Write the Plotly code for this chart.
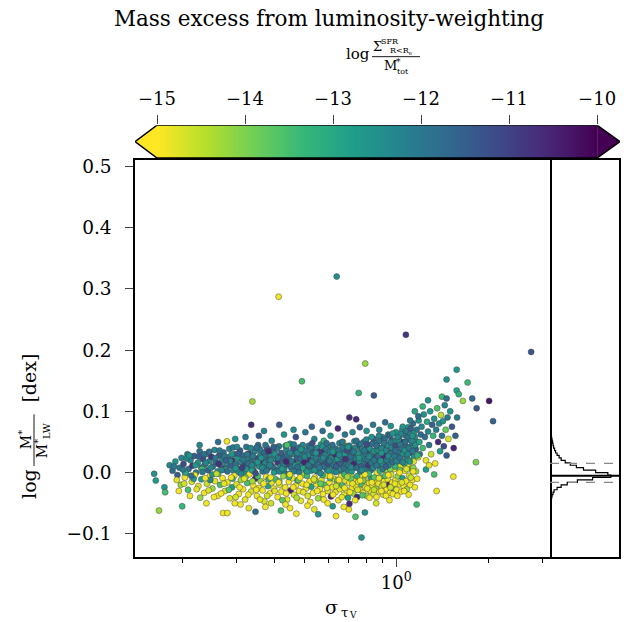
import numpy as np
import plotly.graph_objects as go

W, H = 624, 622
FONT = "DejaVu Serif"

# ---------------- data: (sigma_tauV, log M*/M*_LW, log sSFR-like colour) ----------------
dark_a = [
    (0.182,0.012,-12.3),(0.186,0.003,-11.8),(0.19,0.018,-12.6),(0.193,-0.004,-11.5),(0.196,0.008,-12.0),(0.199,0.024,-12.3),
    (0.202,0.014,-11.2),(0.205,-0.002,-12.6),(0.208,0.03,-12.0),(0.21,0.006,-11.8),(0.213,0.02,-12.3),(0.216,0.011,-10.8),
    (0.219,0.027,-11.5),(0.222,0.0,-12.0),(0.225,0.016,-12.6),(0.228,0.035,-11.8),(0.231,0.008,-12.3),(0.234,0.022,-11.2),
    (0.237,0.013,-12.0),(0.24,0.03,-12.6),(0.243,0.004,-11.5),(0.246,0.019,-12.3),(0.249,0.026,-10.8),(0.252,0.01,-12.0),
    (0.255,0.037,-12.3),(0.258,0.017,-11.8),(0.261,0.002,-12.6),(0.264,0.028,-11.5),(0.267,0.012,-12.0),(0.27,0.021,-12.3),
    (0.273,0.033,-11.8),(0.276,0.007,-11.2),(0.279,0.016,-12.6),(0.282,0.025,-12.0),(0.285,0.039,-12.3),(0.288,0.011,-11.5),
    (0.291,0.02,-10.6),(0.294,0.003,-12.3),(0.297,0.03,-12.0),(0.3,0.014,-11.8),(0.303,0.024,-12.6),(0.306,0.006,-12.0),
    (0.309,0.036,-11.5),(0.312,0.017,-12.3),(0.315,0.028,-11.8),(0.318,0.0,-12.6),(0.321,0.012,-11.2),(0.324,0.042,-12.0),
    (0.327,0.021,-12.3),(0.33,0.031,-10.8),(0.333,0.009,-12.0),(0.336,0.018,-11.8),(0.339,0.026,-12.6),(0.342,0.004,-11.5),
    (0.345,0.035,-12.3),(0.348,0.014,-12.0),(0.351,0.023,-11.2),(0.354,0.045,-11.8),(0.357,0.01,-12.6),(0.36,0.029,-12.3),
    (0.363,0.019,-10.5),(0.366,0.002,-12.0),(0.369,0.033,-11.8),(0.372,0.015,-12.3),(0.375,0.025,-12.6),(0.378,0.04,-11.5),
    (0.381,0.007,-12.0),(0.384,0.02,-11.8),(0.387,0.03,-12.3),(0.39,0.012,-11.2),(0.394,0.037,-12.0),(0.398,0.022,-12.6),
    (0.402,0.005,-11.8),(0.406,0.028,-12.3),(0.41,0.016,-10.8),(0.414,0.043,-12.0),(0.418,0.01,-12.3),(0.422,0.032,-11.5),
    (0.426,0.019,-12.6),(0.43,0.001,-12.0),(0.434,0.026,-11.8),(0.438,0.038,-12.3),(0.442,0.013,-11.2),(0.446,0.022,-12.0),
    (0.45,0.047,-12.6),(0.454,0.008,-11.8),(0.458,0.03,-12.3),(0.462,0.017,-10.4),(0.466,0.035,-12.0),(0.47,0.004,-12.3),
    (0.474,0.024,-11.5),(0.478,0.014,-12.6),(0.482,0.041,-11.8),(0.486,0.029,-12.0),(0.49,0.011,-12.3),(0.494,0.02,-11.2),
    (0.498,0.036,-12.0),(0.503,0.006,-12.6),(0.508,0.027,-11.8),(0.513,0.016,-12.3),(0.518,0.044,-12.0),(0.523,0.021,-10.7),
    (0.528,0.033,-12.3),(0.533,0.009,-11.5),(0.538,0.025,-12.6),(0.543,0.038,-12.0),(0.548,0.014,-11.8),(0.553,0.002,-12.3),
    (0.558,0.03,-11.2),(0.563,0.019,-12.0),(0.568,0.046,-12.6),(0.573,0.011,-11.8),(0.578,0.028,-12.3),(0.583,0.036,-10.5),
    (0.588,0.017,-12.0),(0.593,0.005,-12.3),(0.598,0.024,-11.5),(0.604,0.042,-12.6),(0.61,0.013,-12.0),(0.616,0.031,-11.8),
    (0.622,0.021,-12.3),(0.628,0.008,-11.2),(0.634,0.039,-12.0),(0.64,0.027,-12.6),(0.646,0.015,-10.8),(0.652,0.048,-12.3),
    (0.658,0.003,-11.8),(0.664,0.034,-12.0),(0.67,0.019,-12.3),(0.676,0.026,-11.5),(0.682,0.011,-12.6),(0.688,0.043,-12.0),
    (0.694,0.022,-11.8),(0.7,0.032,-12.3),(0.706,0.006,-10.4),(0.712,0.017,-12.0),(0.718,0.038,-11.2),(0.724,0.025,-12.6),
    (0.73,0.051,-12.3),(0.736,0.013,-11.8),(0.742,0.03,-12.0),(0.748,0.02,-12.3),(0.754,0.044,-11.5),(0.76,0.008,-12.6),
    (0.766,0.035,-12.0),(0.772,0.027,-10.9),(0.778,0.016,-12.3),(0.784,0.05,-11.8),(0.79,0.022,-12.0),(0.796,0.039,-12.6),
    (0.802,0.012,-12.3),(0.808,0.031,-11.2),(0.814,0.045,-12.0),(0.82,0.02,-12.3),(0.826,0.004,-11.8),(0.832,0.036,-12.6),
    (0.838,0.026,-12.0),(0.844,0.055,-11.5),(0.85,0.015,-12.3),(0.857,0.033,-12.0),(0.864,0.048,-12.6),(0.871,0.021,-11.8),
    (0.878,0.04,-10.6),(0.885,0.009,-12.3),(0.892,0.029,-12.0),(0.899,0.058,-12.3),(0.906,0.018,-11.5),(0.913,0.037,-12.6),
    (0.92,0.046,-12.0),(0.927,0.025,-11.8),(0.934,0.013,-12.3),(0.941,0.062,-12.0),(0.948,0.032,-11.2),(0.955,0.042,-12.6),
    (0.962,0.02,-12.3),(0.969,0.053,-12.0),(0.976,0.028,-11.8),(0.983,0.038,-10.5),(0.99,0.016,-12.3),(0.998,0.066,-12.6),
    (1.006,0.045,-12.0),(1.014,0.026,-11.8),(1.022,0.057,-12.3),(1.03,0.035,-11.5),(1.038,0.014,-12.0),(1.046,0.07,-12.6),
    (1.054,0.049,-12.3),(1.062,0.03,-11.2),(1.07,0.061,-12.0),(1.078,0.022,-12.3),(1.086,0.042,-11.8),(1.094,0.074,-12.6),
    (1.102,0.054,-12.0),(1.11,0.033,-10.8),(1.118,0.065,-12.3),(1.126,0.045,-12.0),(1.134,0.08,-11.8),(1.142,0.025,-12.6),
    (1.15,0.058,-12.3),(1.158,0.038,-11.5),(1.166,0.07,-12.0),(1.175,0.05,-12.3),(1.184,0.085,-12.6),(1.193,0.03,-12.0),
    (1.202,0.062,-11.8),
]

lower_band = [
    (0.192,-0.012,-14.8),(0.198,-0.02,-14.2),(0.204,-0.008,-14.9),(0.209,-0.028,-13.5),(0.215,-0.015,-14.7),(0.22,-0.004,-14.9),
    (0.226,-0.022,-14.8),(0.231,-0.011,-12.8),(0.236,-0.033,-14.9),(0.241,-0.018,-14.6),(0.246,-0.006,-14.9),(0.251,-0.026,-14.2),
    (0.256,-0.014,-14.8),(0.261,-0.038,-14.9),(0.266,-0.02,-13.5),(0.271,-0.009,-14.9),(0.276,-0.03,-14.7),(0.281,-0.016,-14.9),
    (0.286,-0.042,-14.8),(0.291,-0.024,-12.8),(0.296,-0.005,-14.9),(0.301,-0.019,-14.7),(0.306,-0.035,-14.9),(0.311,-0.012,-14.2),
    (0.316,-0.027,-14.9),(0.321,-0.044,-14.8),(0.326,-0.017,-13.5),(0.331,-0.003,-14.9),(0.336,-0.031,-14.7),(0.341,-0.021,-14.9),
    (0.346,-0.01,-10.5),(0.351,-0.038,-14.9),(0.356,-0.025,-14.8),(0.361,-0.014,-14.2),(0.366,-0.029,-14.9),(0.371,-0.047,-14.7),
    (0.376,-0.007,-14.9),(0.381,-0.022,-12.8),(0.386,-0.034,-14.9),(0.392,-0.016,-14.8),(0.398,-0.026,-14.9),(0.404,-0.011,-13.5),
    (0.41,-0.04,-14.9),(0.416,-0.02,-14.7),(0.422,-0.031,-14.9),(0.428,-0.006,-14.2),(0.434,-0.024,-14.9),(0.44,-0.044,-14.8),
    (0.446,-0.015,-14.9),(0.452,-0.029,-10.4),(0.458,-0.009,-14.9),(0.464,-0.036,-14.7),(0.47,-0.021,-14.9),(0.476,-0.013,-13.5),
    (0.482,-0.03,-14.9),(0.488,-0.046,-14.8),(0.494,-0.018,-14.9),(0.5,-0.004,-14.2),(0.507,-0.026,-14.9),(0.514,-0.038,-14.7),
    (0.521,-0.014,-14.9),(0.528,-0.023,-12.8),(0.535,-0.033,-14.9),(0.542,-0.008,-14.8),(0.549,-0.019,-14.9),(0.556,-0.042,-14.2),
    (0.563,-0.027,-14.9),(0.57,-0.012,-14.7),(0.577,-0.035,-14.9),(0.584,-0.02,-13.5),(0.591,-0.005,-14.9),(0.598,-0.03,-14.8),
    (0.605,-0.016,-14.9),(0.612,-0.039,-10.5),(0.619,-0.024,-14.9),(0.626,-0.01,-14.7),(0.633,-0.032,-14.9),(0.64,-0.018,-14.2),
    (0.647,-0.045,-14.9),(0.654,-0.027,-14.8),(0.661,-0.006,-14.9),(0.668,-0.021,-13.5),(0.675,-0.036,-14.9),(0.682,-0.013,-14.7),
    (0.689,-0.029,-14.9),(0.696,-0.041,-12.8),(0.703,-0.017,-14.9),(0.71,-0.003,-14.8),(0.717,-0.025,-14.9),(0.724,-0.034,-14.2),
    (0.731,-0.011,-14.9),(0.738,-0.022,-14.7),(0.745,-0.04,-10.6),(0.752,-0.015,-14.9),(0.759,-0.028,-14.8),(0.766,-0.007,-14.9),
    (0.773,-0.019,-13.5),(0.78,-0.033,-14.9),(0.787,-0.012,-14.7),(0.794,-0.024,-14.9),(0.801,-0.038,-14.2),(0.808,-0.004,-14.9),
    (0.815,-0.017,-14.8),(0.822,-0.029,-14.9),(0.829,-0.01,-12.8),(0.836,-0.021,-14.9),(0.843,-0.035,-14.7),(0.85,-0.013,-14.9),
    (0.858,-0.026,-14.2),(0.866,0.0,-14.9),(0.874,-0.018,-14.8),(0.882,-0.031,-14.9),(0.89,-0.008,-13.5),(0.898,-0.022,-14.9),
    (0.906,-0.036,-14.7),(0.914,-0.014,-14.9),(0.922,0.004,-14.2),(0.93,-0.027,-14.9),(0.938,-0.011,-14.8),(0.946,-0.02,-10.5),
    (0.954,-0.033,-14.9),(0.962,-0.003,-14.7),(0.97,-0.016,-14.9),(0.978,-0.025,-13.5),(0.986,0.006,-14.9),(0.994,-0.012,-14.8),
    (1.003,-0.028,-14.9),(1.012,-0.006,-14.2),(1.021,-0.019,-14.9),(1.03,0.01,-14.7),(1.039,-0.031,-14.9),(1.048,-0.009,-12.8),
    (1.057,-0.022,-14.9),(1.066,0.003,-14.8),(1.075,-0.014,-14.9),(1.084,-0.027,-14.2),(1.093,0.012,-14.9),(1.102,-0.005,-14.7),
    (1.111,-0.02,-14.9),(1.12,0.006,-13.5),(1.13,-0.012,-14.9),(1.14,0.018,-14.8),(1.15,-0.024,-14.9),(1.16,0.002,-14.2),
    (1.17,-0.01,-14.9),(1.18,0.025,-14.7),
]

mixed_band = [
    (0.205,0.0,-13.0),(0.218,-0.01,-12.6),(0.232,0.006,-13.4),(0.247,-0.012,-12.3),(0.262,-0.002,-13.8),(0.277,0.005,-12.8),
    (0.292,-0.01,-13.2),(0.307,0.001,-12.5),(0.322,-0.008,-14.0),(0.338,0.004,-12.9),(0.353,-0.006,-13.5),(0.368,0.009,-12.4),
    (0.383,-0.011,-13.1),(0.399,0.0,-12.7),(0.415,-0.014,-13.9),(0.431,0.006,-12.6),(0.447,-0.007,-13.3),(0.463,0.002,-12.2),
    (0.479,-0.012,-13.7),(0.495,0.007,-12.9),(0.511,-0.005,-13.4),(0.527,0.003,-12.5),(0.543,-0.013,-14.1),(0.559,0.005,-12.8),
    (0.575,-0.004,-13.2),(0.592,0.008,-12.4),(0.609,-0.009,-13.6),(0.626,0.002,-12.7),(0.643,-0.012,-14.0),(0.66,0.006,-12.9),
    (0.677,-0.003,-13.3),(0.694,0.004,-12.3),(0.711,-0.01,-13.8),(0.728,0.008,-12.6),(0.745,-0.006,-13.1),(0.762,0.002,-12.4),
    (0.779,-0.013,-14.0),(0.796,0.006,-12.8),(0.813,-0.002,-13.4),(0.83,0.01,-12.5),(0.848,-0.008,-13.7),(0.866,0.012,-12.9),
    (0.884,0.003,-13.2),(0.902,0.014,-12.4),(0.92,-0.005,-13.6),(0.938,0.018,-12.7),(0.956,0.006,-14.0),(0.974,0.022,-12.9),
    (0.992,0.01,-13.3),(1.01,0.026,-12.4),(1.028,0.004,-13.8),(1.046,0.03,-12.6),(1.064,0.015,-13.1),(1.082,0.035,-12.3),
    (1.1,0.02,-13.5),(1.118,0.04,-12.8),(1.136,0.008,-14.1),(1.154,0.045,-12.5),(1.172,0.028,-13.2),(1.19,0.05,-12.9),
]

dark_b = [
    (0.201,0.005,-12.0),(0.207,0.023,-12.3),(0.214,-0.005,-11.8),(0.221,0.012,-12.6),(0.227,0.026,-11.5),(0.233,0.001,-12.0),
    (0.239,0.016,-12.3),(0.245,0.034,-11.8),(0.251,-0.003,-12.6),(0.257,0.024,-12.0),(0.263,0.014,-10.7),(0.269,0.004,-12.3),
    (0.275,0.026,-12.0),(0.281,0.002,-11.8),(0.287,0.019,-12.3),(0.293,0.041,-12.0),(0.299,0.007,-12.6),(0.305,0.031,-11.5),
    (0.311,-0.002,-12.3),(0.317,0.021,-12.0),(0.323,0.006,-12.6),(0.329,0.015,-11.8),(0.335,0.04,-12.3),(0.341,0.027,-12.0),
    (0.347,-0.001,-11.2),(0.353,0.017,-12.6),(0.359,0.038,-12.0),(0.365,0.008,-12.3),(0.371,0.026,-11.8),(0.377,0.003,-12.0),
    (0.383,0.035,-10.6),(0.389,0.02,-12.3),(0.395,0.009,-11.8),(0.401,0.03,-12.6),(0.408,0.039,-12.0),(0.415,0.002,-12.3),
    (0.421,0.023,-11.5),(0.428,0.012,-12.0),(0.435,0.044,-12.6),(0.441,0.029,-11.8),(0.448,-0.002,-12.3),(0.455,0.019,-12.0),
    (0.461,0.039,-11.2),(0.468,0.012,-12.6),(0.475,0.032,-12.3),(0.481,0.001,-12.0),(0.488,0.022,-11.8),(0.495,0.045,-12.3),
    (0.501,0.017,-10.5),(0.506,0.036,-12.0),(0.511,0.002,-12.6),(0.516,0.029,-12.3),(0.521,0.01,-11.8),(0.526,0.041,-12.0),
    (0.531,0.018,-12.3),(0.536,0.032,-11.5),(0.541,0.004,-12.6),(0.546,0.024,-12.0),(0.551,0.04,-12.3),(0.556,0.013,-11.8),
    (0.561,0.034,-10.9),(0.566,-0.001,-12.3),(0.571,0.021,-12.0),(0.576,0.043,-12.6),(0.581,0.01,-11.8),(0.586,0.029,-12.3),
    (0.591,0.038,-12.0),(0.596,0.015,-11.2),(0.601,0.003,-12.6),(0.607,0.034,-12.0),(0.613,0.024,-12.3),(0.619,0.045,-11.8),
    (0.625,0.012,-12.0),(0.631,0.03,-10.6),(0.637,0.001,-12.3),(0.643,0.022,-12.6),(0.649,0.036,-12.0),(0.655,0.014,-11.5),
    (0.661,0.026,-12.3),(0.667,0.041,-12.0),(0.673,0.007,-11.8),(0.679,0.03,-12.6),(0.685,0.018,-12.3),(0.691,0.036,-11.2),
    (0.697,0.012,-12.0),(0.703,0.044,-12.3),(0.709,0.026,-11.8),(0.715,0.002,-12.6),(0.721,0.033,-12.0),(0.727,0.014,-10.5),
    (0.733,0.04,-12.3),(0.739,0.023,-12.0),(0.745,0.008,-11.8),(0.751,0.031,-12.6),(0.757,0.018,-12.3),(0.763,0.047,-12.0),
    (0.769,0.01,-11.5),(0.775,0.039,-12.3),(0.781,0.028,-12.6),(0.787,0.005,-12.0),(0.793,0.03,-11.8),(0.799,0.054,-12.3),
    (0.805,0.022,-12.0),(0.811,0.012,-10.8),(0.817,0.04,-12.6),(0.823,0.028,-12.3),(0.829,0.016,-12.0),(0.835,0.047,-11.8),
    (0.841,0.008,-12.3),(0.847,0.035,-12.6),(0.854,0.024,-11.2),(0.861,0.012,-12.0),(0.868,0.037,-12.3),(0.875,0.027,-11.8),
    (0.882,0.052,-12.0),(0.889,0.019,-12.6),(0.896,0.04,-12.3),(0.903,0.006,-12.0),(0.91,0.028,-10.6),(0.917,0.055,-11.8),
    (0.924,0.036,-12.3),(0.931,0.02,-12.0),(0.938,0.045,-12.6),(0.945,0.012,-12.3),(0.952,0.06,-11.5),(0.959,0.031,-12.0),
    (0.966,0.041,-12.3),(0.973,0.017,-11.8),(0.98,0.05,-12.6),(0.987,0.027,-12.0),(0.995,0.044,-11.2),(1.003,0.019,-12.3),
    (1.011,0.034,-12.0),(1.019,0.052,-12.6),(1.027,0.024,-11.8),(1.035,0.063,-12.3),(1.043,0.04,-12.0),(1.051,0.017,-12.3),
    (1.059,0.05,-10.7),(1.067,0.036,-12.6),(1.075,0.068,-12.0),(1.083,0.028,-12.3),(1.091,0.057,-11.8),(1.099,0.04,-12.0),
    (1.107,0.018,-12.6),(1.115,0.072,-11.5),(1.123,0.052,-12.3),(1.131,0.035,-12.0),(1.139,0.064,-12.6),
]

lower_b = [
    (0.195,-0.03,-14.9),(0.203,-0.018,-14.7),(0.212,-0.038,-14.9),(0.223,-0.027,-14.8),(0.229,-0.041,-14.2),(0.238,-0.009,-14.9),
    (0.244,-0.029,-14.7),(0.254,-0.04,-14.9),(0.259,-0.002,-14.5),(0.268,-0.034,-14.9),(0.274,-0.018,-14.8),(0.284,-0.028,-13.6),
    (0.289,-0.008,-14.9),(0.299,-0.04,-14.7),(0.308,-0.024,-14.9),(0.319,-0.01,-14.8),(0.329,-0.036,-14.9),(0.339,-0.014,-14.3),
    (0.349,-0.028,-14.9),(0.359,-0.044,-14.8),(0.369,-0.018,-14.9),(0.379,-0.038,-14.6),(0.389,-0.008,-14.9),(0.401,-0.03,-14.8),
    (0.413,-0.016,-14.9),(0.425,-0.045,-13.7),(0.437,-0.034,-14.9),(0.449,-0.003,-14.8),(0.461,-0.024,-14.9),(0.473,-0.041,-14.4),
    (0.485,-0.008,-14.9),(0.497,-0.032,-14.8),(0.51,-0.02,-14.9),(0.524,-0.048,-14.9),(0.538,-0.011,-14.7),(0.552,-0.03,-14.9),
    (0.566,-0.018,-13.8),(0.58,-0.044,-14.9),(0.594,-0.025,-14.8),(0.608,-0.006,-14.9),(0.622,-0.036,-14.9),(0.636,-0.022,-14.6),
    (0.65,-0.012,-14.9),(0.664,-0.04,-14.8),(0.678,-0.025,-14.9),(0.692,-0.007,-14.3),(0.706,-0.032,-14.9),(0.72,-0.018,-14.8),
    (0.734,-0.045,-14.9),(0.748,-0.028,-14.7),(0.762,-0.013,-14.9),(0.776,-0.037,-13.6),(0.79,-0.003,-14.9),(0.804,-0.026,-14.8),
    (0.818,-0.041,-14.9),(0.832,-0.016,-14.9),(0.846,-0.028,-14.5),(0.862,-0.04,-14.9),(0.878,-0.009,-14.8),(0.894,-0.03,-14.9),
    (0.91,-0.02,-14.7),(0.926,-0.038,-14.9),(0.942,-0.004,-14.9),(0.958,-0.024,-14.6),(0.975,-0.035,-14.9),(0.99,-0.018,-14.8),
    (1.008,-0.038,-14.9),(1.025,0.0,-14.9),(1.043,-0.016,-14.7),(1.061,-0.03,-14.9),(1.08,0.006,-14.8),(1.098,-0.036,-14.9),
    (1.116,-0.008,-14.6),(1.135,0.002,-14.9),
]

dark_c = [
    (0.188,0.01,-12.0),(0.211,0.028,-12.6),(0.236,0.03,-11.8),(0.248,0.008,-12.3),(0.265,0.036,-12.0),(0.278,0.02,-11.5),
    (0.29,0.03,-12.6),(0.302,0.042,-12.3),(0.314,0.008,-10.9),(0.326,0.03,-12.0),(0.338,0.012,-12.3),(0.35,0.041,-11.8),
    (0.362,0.024,-12.6),(0.374,0.045,-12.0),(0.386,0.012,-12.3),(0.398,0.042,-11.5),(0.411,0.024,-12.0),(0.424,0.006,-12.6),
    (0.437,0.018,-10.5),(0.45,0.032,-12.3),(0.463,0.046,-12.0),(0.476,0.009,-11.8),(0.489,0.038,-12.6),(0.502,0.026,-12.3),
    (0.517,0.012,-12.0),(0.532,0.048,-11.2),(0.547,0.032,-12.6),(0.562,0.008,-12.0),(0.577,0.024,-12.3),(0.592,0.048,-11.8),
    (0.606,0.019,-12.0),(0.621,0.034,-12.6),(0.636,0.01,-11.5),(0.651,0.029,-12.3),(0.666,0.05,-12.0),(0.681,0.022,-10.7),
    (0.696,0.042,-12.6),(0.711,0.009,-12.3),(0.726,0.034,-12.0),(0.741,0.052,-11.8),(0.756,0.024,-12.6),(0.771,0.004,-12.3),
    (0.786,0.036,-12.0),(0.801,0.046,-11.2),(0.816,0.026,-12.3),(0.831,0.058,-12.6),(0.846,0.02,-12.0),(0.862,0.044,-11.8),
    (0.878,0.06,-12.3),(0.894,0.032,-12.6),(0.91,0.048,-12.0),(0.926,0.01,-11.5),(0.942,0.027,-12.3),(0.958,0.05,-12.0),
    (0.974,0.064,-12.6),(0.992,0.036,-11.8),(1.01,0.058,-12.3),(1.03,0.046,-12.0),(1.05,0.075,-12.6),(1.07,0.05,-11.8),
    (1.09,0.03,-12.3),(1.11,0.085,-12.0),(1.13,0.06,-12.6),
]

upper_strag = [
    (0.228,0.045,-12.3),(0.262,0.05,-11.8),(0.298,0.055,-12.6),(0.322,0.058,-12.0),(0.356,0.06,-11.5),(0.392,0.052,-12.3),
    (0.43,0.062,-12.6),(0.47,0.058,-11.2),(0.505,0.066,-12.0),(0.54,0.055,-12.3),(0.575,0.068,-11.8),(0.61,0.06,-12.6),
    (0.645,0.072,-10.6),(0.68,0.062,-12.0),(0.72,0.066,-12.3),(0.76,0.074,-11.5),(0.8,0.068,-12.6),(0.84,0.078,-12.0),
    (0.88,0.07,-12.3),(0.92,0.082,-11.8),(0.96,0.076,-12.6),(0.6,0.08,-12.4),(0.53,0.075,-11.6),(0.37,0.068,-12.2),
    (0.44,0.045,-13.6),(0.67,0.05,-14.6),(0.58,0.052,-13.2),
]

lower_strag = [
    (0.24,-0.05,-14.9),(0.33,-0.058,-14.8),(0.39,-0.05,-14.6),(0.45,-0.058,-14.9),(0.54,-0.06,-14.8),
    (0.62,-0.055,-12.6),(0.7,-0.06,-14.9),(0.86,-0.05,-14.7),(0.95,-0.045,-14.9),(0.42,-0.062,-13.5),
]

right_wing = [
    (1.21,0.075,-12.4),(1.22,0.04,-13.4),(1.23,0.095,-12.6),(1.24,0.058,-11.8),(1.25,0.02,-14.8),(1.26,0.083,-13.0),
    (1.27,0.067,-12.3),(1.28,0.045,-12.0),(1.29,0.1,-12.7),(1.3,0.03,-14.6),(1.31,0.078,-11.5),(1.32,0.06,-13.3),
    (1.33,0.088,-12.5),(1.34,0.015,-14.9),(1.35,0.07,-12.1),(1.36,0.105,-13.6),(1.37,0.05,-10.6),(1.38,0.08,-12.4),
    (1.39,0.035,-12.8),(1.4,0.094,-14.5),(1.41,0.06,-11.9),(1.42,0.084,-12.6),(1.43,0.043,-11.2),(1.44,0.11,-12.3),
    (1.45,0.07,-13.8),(1.46,0.028,-11.5),(1.47,0.09,-12.0),(1.48,0.055,-14.7),(1.5,0.1,-12.6),(1.52,0.075,-11.4),
    (1.54,0.04,-10.5),(1.56,0.06,-11.6),(1.58,0.09,-12.2),(1.25,0.005,-12.8),(1.28,0.012,-14.8),(1.33,-0.003,-13.5),
    (1.22,0.108,-13.2),(1.27,0.118,-12.5),(1.18,0.092,-11.7),(1.15,0.1,-12.9),
]

outliers = [
    (0.639,0.32,-12.5),(0.413,0.287,-14.9),(1.075,0.225,-10.8),(2.757,0.197,-11.3),(0.792,0.178,-14.2),
    (0.492,0.149,-13.5),(1.575,0.168,-12.6),(1.46,0.152,-12.5),(0.754,0.13,-13.3),(0.845,0.126,-11.4),
    (0.339,0.116,-14.3),(0.336,0.078,-10.6),(0.415,0.078,-11.4),(0.462,0.07,-12.4),(0.28,0.051,-14.9),
    (0.703,0.09,-10.7),(0.74,0.087,-10.6),(2.01,0.117,-10.3),(2.07,0.084,-11.6),(1.83,0.105,-11.4),
    (1.77,0.121,-11.7),(1.71,0.147,-13.4),(1.575,0.134,-12.9),(1.6,0.128,-13.2),(1.41,0.124,-13.4),
    (1.46,0.121,-11.8),(1.65,0.117,-14.2),(1.82,0.017,-14.0),(1.355,-0.03,-14.9),(1.166,-0.052,-13.4),
    (1.536,-0.0065,-14.9),(0.168,-0.062,-14.2),(0.2,-0.055,-13.3),(0.162,-0.002,-12.5),(0.164,-0.013,-12.7),
    (0.175,-0.024,-12.6),(0.176,-0.032,-13.5),(0.272,-0.066,-14.9),(0.281,-0.066,-14.9),(0.347,-0.064,-11.8),
    (0.472,-0.067,-14.9),(0.556,-0.068,-12.6),(0.636,-0.071,-14.9),(0.736,-0.072,-13.6),(0.79,-0.065,-12.6),
    (0.674,-0.056,-14.9),(0.703,-0.051,-10.6),(0.513,-0.054,-14.9),(0.597,-0.05,-14.9),(0.435,-0.052,-14.9),
    (0.374,-0.056,-14.9),(0.31,-0.052,-14.9),(0.297,-0.05,-14.9),(0.77,-0.106,-12.6),
]

# marginal histogram of log M*/M*_LW
hist_edges = [-0.052,-0.048,-0.044,-0.040,-0.036,-0.032,-0.028,-0.024,-0.020,-0.016,-0.012,-0.008,-0.004,0.000,
              0.004,0.008,0.012,0.016,0.020,0.024,0.028,0.032,0.036,0.040,0.044,0.048,0.052,0.056,0.060,
              0.064,0.068,0.072,0.076,0.080,0.084,0.088,0.092,0.096]
hist_counts = [5,10,15,20,30,40,70,110,170,270,420,600,570,450,330,260,200,150,110,90,70,55,45,35,30,25,20,15,12,10,8,6,5,4,3,2,1]
dm_median = -0.005
dm_p16 = -0.016
dm_p84 = 0.015

cbar_ticks = [-15, -14, -13, -12, -11, -10]
CMIN, CMAX = -15, -10
x_minor = [0.2, 0.3, 0.4, 0.5, 0.6, 0.7, 0.8, 0.9, 2, 3]

# ---------------- figure ----------------
groups = [dark_a, lower_band, mixed_band, dark_b, lower_b, upper_strag, dark_c, lower_strag, right_wing, outliers]
sig = [p[0] for g in groups for p in g]
dm = [p[1] for g in groups for p in g]
ssfr = [p[2] for g in groups for p in g]

def PX(x):
    return x / W

def PY(y):
    return 1 - y / H

fig = go.Figure()
fig.add_trace(go.Scatter(
    x=sig, y=dm, mode="markers", xaxis="x", yaxis="y", showlegend=False, hoverinfo="skip",
    marker=dict(color=ssfr, colorscale="Viridis", reversescale=True, cmin=CMIN, cmax=CMAX, size=6,
                line=dict(color="rgba(60,60,60,0.75)", width=0.6))))

n = len(hist_counts)
hx = [0] + hist_counts + [hist_counts[-1], 0]
hy = [hist_edges[0]] + hist_edges[:n] + [hist_edges[n], hist_edges[n]]
fig.add_trace(go.Scatter(x=hx, y=hy, mode="lines", line=dict(color="black", width=1.2, shape="vh"),
                         xaxis="x2", yaxis="y2", showlegend=False, hoverinfo="skip"))

# colour bar drawn as a heatmap on its own axis
cb_vals = np.linspace(CMIN, CMAX, 256)
cb_edges = np.linspace(CMIN, CMAX, 257)
fig.add_trace(go.Heatmap(z=[cb_vals], x=cb_edges, y=[0, 1], colorscale="Viridis", reversescale=True,
                         zmin=CMIN, zmax=CMAX, showscale=False, xaxis="x3", yaxis="y3", hoverinfo="skip"))

axis_common = dict(showgrid=False, zeroline=False, linecolor="black", linewidth=1.5, showline=True)
TICKFONT = dict(family=FONT, size=18.5, color="black")

YR = [-0.1384, 0.5102]
fig.update_layout(
    width=W, height=H, margin=dict(l=0, r=0, t=0, b=0), paper_bgcolor="white", plot_bgcolor="white",
    font=dict(family=FONT, color="black"), hovermode=False,
    xaxis=dict(domain=[PX(135), PX(550)], type="log", range=[-0.853, 0.502], anchor="y", mirror=True,
               tickvals=[1], ticktext=["10<sup>0</sup>"], ticks="outside", ticklen=8, tickwidth=1.3,
               tickfont=dict(family=FONT, size=18, color="black"),
               minor=dict(tickvals=x_minor, ticks="outside", ticklen=4, tickwidth=1.0, tickcolor="black", showgrid=False),
               **axis_common),
    yaxis=dict(domain=[PY(557), PY(157)], range=YR, anchor="x", tick0=0, dtick=0.1, tickformat=".1f", mirror=True,
               ticks="outside", ticklen=8, tickwidth=1.3, ticklabelstandoff=10, tickfont=TICKFONT, **axis_common),
    xaxis2=dict(domain=[PX(550), PX(619)], range=[0, 680], anchor="y2", showticklabels=False, ticks="",
                mirror=True, **axis_common),
    yaxis2=dict(domain=[PY(557), PY(157)], range=YR, anchor="x2", showticklabels=False, ticks="",
                side="right", mirror=False, **axis_common),
    xaxis3=dict(domain=[PX(135), PX(620)], range=[-15.25, -9.74], anchor="y3", side="top",
                tickvals=cbar_ticks, ticks="outside", ticklen=9, tickwidth=1.3, showline=False,
                showgrid=False, zeroline=False, ticklabelstandoff=3,
                tickfont=dict(family=FONT, size=18, color="black")),
    yaxis3=dict(domain=[PY(155), PY(122)], range=[0, 1], anchor="x3", visible=False),
)

shapes = [
    dict(type="path", xref="x3", yref="y3", path="M -15,0 L -15.25,0.5 L -15,1 Z",
         fillcolor="#fde725", line=dict(width=0)),
    dict(type="path", xref="x3", yref="y3", path="M -10,0 L -9.74,0.5 L -10,1 Z",
         fillcolor="#440154", line=dict(width=0)),
    dict(type="path", xref="x3", yref="y3",
         path="M -15,0 L -15.25,0.5 L -15,1 L -10,1 L -9.74,0.5 L -10,0 Z",
         line=dict(color="black", width=1.5)),
    dict(type="line", xref="x2 domain", yref="y2", x0=0, x1=1, y0=dm_median, y1=dm_median,
         line=dict(color="black", width=2)),
    dict(type="line", xref="x2 domain", yref="y2", x0=0, x1=1, y0=dm_p16, y1=dm_p16,
         line=dict(color="#888888", width=1.2, dash="dash")),
    dict(type="line", xref="x2 domain", yref="y2", x0=0, x1=1, y0=dm_p84, y1=dm_p84,
         line=dict(color="#888888", width=1.2, dash="dash")),
    # fraction bars for the stacked labels
    dict(type="line", xref="paper", yref="paper", x0=PX(372), x1=PX(420), y0=PY(53), y1=PY(53),
         line=dict(color="black", width=0.9)),
    dict(type="line", xref="paper", yref="paper", x0=PX(34), x1=PX(34), y0=PY(413), y1=PY(465),
         line=dict(color="black", width=0.9)),
]
fig.update_layout(shapes=shapes)

def ann(text, x, y, size, angle=0):
    return dict(text=text, x=PX(x), y=PY(y), xref="paper", yref="paper", showarrow=False,
                xanchor="center", yanchor="middle", textangle=angle,
                font=dict(family=FONT, size=size, color="black"))

annotations = [
    ann("Mass excess from luminosity-weighting", 329, 15, 21.5),
    # colour-bar label: log Sigma^SFR_{R<Re} / M*_tot
    ann("log", 358, 50, 15),
    ann("Σ", 377, 43, 13),
    ann("SFR", 390, 38, 8),
    ann("R&lt;R<sub>e</sub>", 401, 47, 8),
    ann("M", 390, 62, 13),
    ann("*", 398, 58, 9),
    ann("tot", 403, 68, 8),
    # y-axis label
    ann("log", 29, 483, 19, -90),
    ann("M<sup>*</sup>", 25, 439, 14, -90),
    ann("M<sup>*</sup><sub>LW</sub>", 42, 439, 14, -90),
    ann("[dex]", 29, 377, 19, -90),
    # x-axis label
    ann("σ", 331, 607, 19),
    ann("τ", 344, 612, 13),
    ann("V", 353, 615, 9),
]
fig.update_layout(annotations=annotations)

fig.write_html("out.html", config={"displayModeBar": False},
               post_script="document.body.style.margin='0';document.body.style.padding='0';document.body.style.overflow='hidden';")
